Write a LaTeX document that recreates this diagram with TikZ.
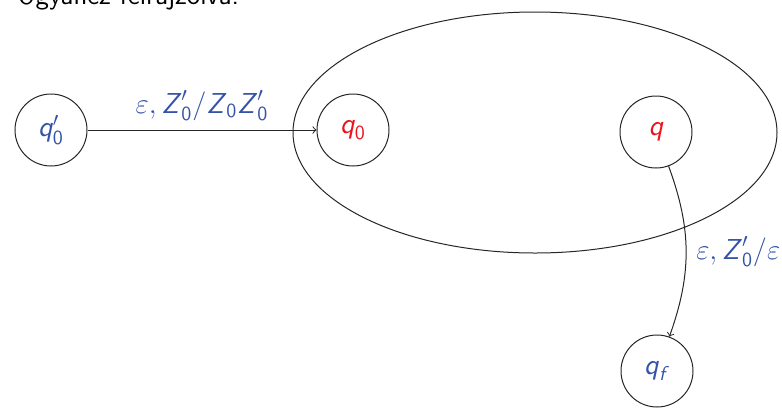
\documentclass[tikz,border=0pt]{standalone}
\usepackage{amsmath}
\usetikzlibrary{shapes.geometric}
\definecolor{stblue}{RGB}{52,82,168}
\definecolor{stred}{RGB}{235,20,30}
\newcommand{\svar}[1]{\text{\sffamily\slshape #1\/}}
\newcommand{\sdig}[1]{\text{\sffamily\upshape #1}}
\tikzset{
  state/.style={circle, draw=black!85, line width=0.5pt, minimum size=36pt, inner sep=0pt,
    font=\fontsize{14.4}{17}\selectfont},
  lbl/.style={text=stblue, font=\fontsize{14.4}{17}\selectfont},
  conn/.style={->, >=to, line width=0.5pt, draw=black!85}
}
\begin{document}
\begin{tikzpicture}[x=0.5pt, y=-0.5pt]
\useasboundingbox (0,0) rectangle (782,408);
\node[anchor=base west, inner sep=0pt, font=\sffamily\fontsize{13.7}{16}\selectfont] (title) at (17,4) {Ugyanez felrajzolva:};
\node[ellipse, draw=black!85, line width=0.5pt, minimum width=242pt, minimum height=120.5pt, inner sep=0pt] (E) at (535,132.5) {};
\node[state, text=stblue] (q0p) at (51,130) {$\svar{q}'_{\sdig{0}}$};
\node[state, text=stred] (q0) at (353,130) {$\svar{q}_{\sdig{0}}$};
\node[state, text=stred] (q) at (656,132) {$\svar{q}$};
\node[state, text=stblue] (qf) at (657,371) {$\svar{q}_{\svar{f}}$};
\draw[conn] (q0p) -- node[lbl, above, yshift=1pt] {$\varepsilon, \svar{Z}'_{\sdig{0}}/\svar{Z}_{\sdig{0}}\svar{Z}'_{\sdig{0}}$} (q0);
\draw[conn] (q) to[bend left=20] node[lbl, right, xshift=1.5pt] {$\varepsilon, \svar{Z}'_{\sdig{0}}/\varepsilon$} (qf);
\end{tikzpicture}
\end{document}
